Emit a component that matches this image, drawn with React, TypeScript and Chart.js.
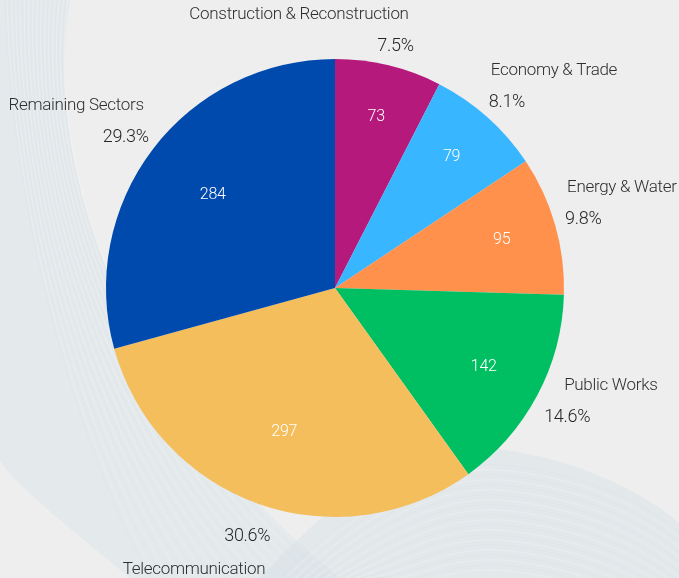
import React, { useEffect, useRef } from "react";
import { Chart, registerables } from "chart.js";

Chart.register(...registerables);

const categories = [
  "Construction & Reconstruction",
  "Economy & Trade",
  "Energy & Water",
  "Public Works",
  "Telecommunication",
  "Remaining Sectors",
];
const values = [73, 79, 95, 142, 297, 284];
const sliceColors = ["#B5197B", "#38B6FF", "#FF914D", "#00BF63", "#F4BE5C", "#004AAD"];

const FONT = "Roboto, 'Open Sans', sans-serif";
const W = 679;
const H = 578;

const backgroundPlugin = {
  id: "bgWaves",
  beforeDraw(chart: any) {
    const ctx = chart.ctx as CanvasRenderingContext2D;
    ctx.save();
    ctx.fillStyle = "#EEEEEE";
    ctx.fillRect(0, 0, W, H);

    // left wave band
    ctx.beginPath();
    ctx.moveTo(0, 0);
    ctx.lineTo(70, 0);
    ctx.bezierCurveTo(40, 170, 130, 410, 340, 578);
    ctx.lineTo(130, 578);
    ctx.bezierCurveTo(60, 520, 10, 480, 0, 460);
    ctx.closePath();
    ctx.fillStyle = "rgba(216,226,231,0.45)";
    ctx.fill();

    ctx.lineWidth = 0.8;
    for (let k = 0; k < 30; k++) {
      const t = k / 30;
      ctx.beginPath();
      ctx.moveTo(5 + 65 * t, 0);
      ctx.bezierCurveTo(10 + 35 * t, 180, 60 + 80 * t, 410, 150 + 190 * t, 578);
      ctx.strokeStyle = k % 2 ? "rgba(255,255,255,0.25)" : "rgba(205,217,224,0.22)";
      ctx.stroke();
    }

    // bottom right wave band
    ctx.beginPath();
    ctx.moveTo(260, 578);
    ctx.bezierCurveTo(350, 480, 420, 445, 480, 447);
    ctx.bezierCurveTo(570, 455, 640, 490, 679, 523);
    ctx.lineTo(679, 578);
    ctx.closePath();
    ctx.fillStyle = "rgba(216,226,231,0.5)";
    ctx.fill();
    for (let k = 0; k < 22; k++) {
      const d = k * 5;
      ctx.beginPath();
      ctx.moveTo(280 + d, 578);
      ctx.bezierCurveTo(370 + d * 0.4, 490 + d, 440, 462 + d, 500, 465 + d);
      ctx.bezierCurveTo(580, 472 + d, 640, 500 + d, 679, 532 + d);
      ctx.strokeStyle = k % 2 ? "rgba(255,255,255,0.3)" : "rgba(205,215,221,0.22)";
      ctx.stroke();
    }
    ctx.restore();
  },
};

const labelPlugin = {
  id: "sliceLabels",
  afterDatasetsDraw(chart: any) {
    const ctx = chart.ctx as CanvasRenderingContext2D;
    const meta = chart.getDatasetMeta(0);
    const total = values.reduce((a, b) => a + b, 0);
    ctx.save();
    meta.data.forEach((arc: any, i: number) => {
      const p = arc.getProps(["x", "y", "startAngle", "endAngle", "outerRadius"], true);
      const mid = (p.startAngle + p.endAngle) / 2;
      const span = p.endAngle - p.startAngle;
      const c = Math.cos(mid);
      const s = Math.sin(mid);
      (ctx as any).letterSpacing = "-0.3px";

      // value inside slice
      const vr = p.outerRadius * (0.8 - 0.07 * span);
      ctx.fillStyle = "#FFFFFF";
      ctx.font = `300 16px ${FONT}`;
      ctx.textAlign = "center";
      ctx.textBaseline = "middle";
      ctx.fillText(String(values[i]), p.x + c * vr, p.y + s * vr);

      // percentage outside
      const pct = ((values[i] / total) * 100).toFixed(1) + "%";
      ctx.font = `300 18px ${FONT}`;
      const pw = ctx.measureText(pct).width;
      const pr = p.outerRadius + 11;
      const px = p.x + c * pr + (c * pw) / 2;
      const py = p.y + s * pr + (s > 0 ? 12 + s * 11 : s * 8);
      ctx.fillStyle = "#262626";
      ctx.textAlign = "center";
      ctx.fillText(pct, px, py);

      // category name
      ctx.font = `300 17px ${FONT}`;
      ctx.fillStyle = "#2E2E2E";
      const ny = s > 0.7 ? py + 33 : py - 32;
      if (c > 0.3) {
        ctx.textAlign = "left";
        ctx.fillText(categories[i], px - pw / 2 + (s > 0 ? 20 : 2), ny);
      } else {
        ctx.textAlign = "right";
        ctx.fillText(categories[i], px + pw / 2 - 5, ny);
      }
    });
    ctx.restore();
  },
};

export default function App() {
  const ref = useRef<HTMLCanvasElement | null>(null);
  useEffect(() => {
    if (!ref.current) return;
    const chart = new Chart(ref.current, {
      type: "pie",
      data: {
        labels: categories,
        datasets: [
          {
            data: values,
            backgroundColor: sliceColors,
            borderWidth: 0,
          },
        ],
      },
      options: {
        responsive: false,
        animation: false,
        layout: { padding: { top: 59, bottom: 61, left: 106, right: 115 } },
        plugins: {
          legend: { display: false },
          tooltip: { enabled: false },
        },
      },
      plugins: [backgroundPlugin, labelPlugin],
    });
    return () => chart.destroy();
  }, []);
  return (
    <div style={{ position: "fixed", left: 0, top: 0, width: W, height: H }}>
      <canvas ref={ref} width={W} height={H} style={{ display: "block" }} />
    </div>
  );
}
